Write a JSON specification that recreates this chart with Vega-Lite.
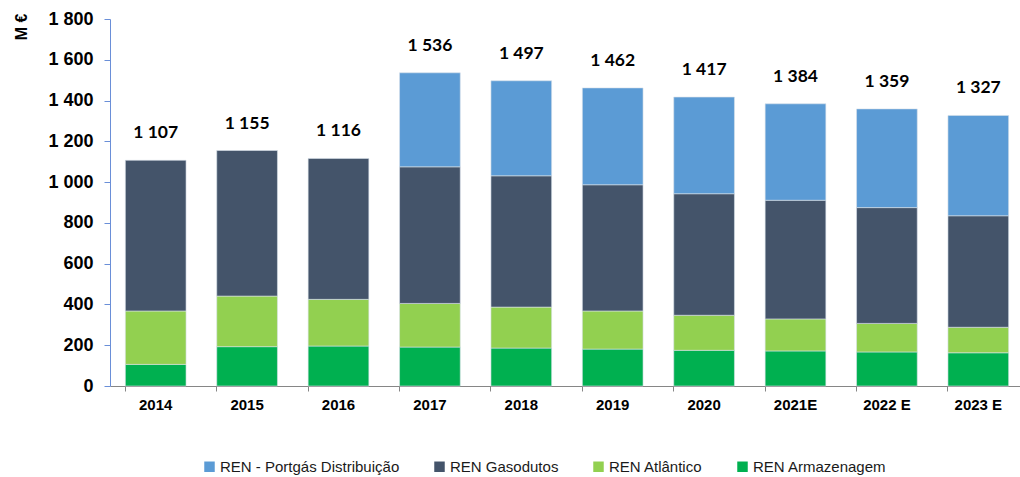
{
  "$schema": "https://vega.github.io/schema/vega-lite/v6.json",
  "autosize": {"type": "none"},
  "width": 914,
  "height": 367,
  "padding": {"left": 110, "top": 19, "right": 0, "bottom": 91},
  "background": "#ffffff",
  "config": {
    "view": {"stroke": null},
    "locale": {"number": {"decimal": ",", "thousands": " ", "grouping": [3], "currency": ["", " €"]}},
    "font": "Liberation Sans"
  },
  "data": {
    "values": [
      {"year": "2014", "seg": "REN Armazenagem", "ord": 1, "value": 106},
      {"year": "2014", "seg": "REN Atlântico", "ord": 2, "value": 262},
      {"year": "2014", "seg": "REN Gasodutos", "ord": 3, "value": 739},
      {"year": "2015", "seg": "REN Armazenagem", "ord": 1, "value": 193},
      {"year": "2015", "seg": "REN Atlântico", "ord": 2, "value": 248},
      {"year": "2015", "seg": "REN Gasodutos", "ord": 3, "value": 714},
      {"year": "2016", "seg": "REN Armazenagem", "ord": 1, "value": 196},
      {"year": "2016", "seg": "REN Atlântico", "ord": 2, "value": 229},
      {"year": "2016", "seg": "REN Gasodutos", "ord": 3, "value": 691},
      {"year": "2017", "seg": "REN Armazenagem", "ord": 1, "value": 191},
      {"year": "2017", "seg": "REN Atlântico", "ord": 2, "value": 214},
      {"year": "2017", "seg": "REN Gasodutos", "ord": 3, "value": 670},
      {"year": "2017", "seg": "REN - Portgás Distribuição", "ord": 4, "value": 461},
      {"year": "2018", "seg": "REN Armazenagem", "ord": 1, "value": 186},
      {"year": "2018", "seg": "REN Atlântico", "ord": 2, "value": 201},
      {"year": "2018", "seg": "REN Gasodutos", "ord": 3, "value": 644},
      {"year": "2018", "seg": "REN - Portgás Distribuição", "ord": 4, "value": 466},
      {"year": "2019", "seg": "REN Armazenagem", "ord": 1, "value": 181},
      {"year": "2019", "seg": "REN Atlântico", "ord": 2, "value": 187},
      {"year": "2019", "seg": "REN Gasodutos", "ord": 3, "value": 619},
      {"year": "2019", "seg": "REN - Portgás Distribuição", "ord": 4, "value": 475},
      {"year": "2020", "seg": "REN Armazenagem", "ord": 1, "value": 175},
      {"year": "2020", "seg": "REN Atlântico", "ord": 2, "value": 172},
      {"year": "2020", "seg": "REN Gasodutos", "ord": 3, "value": 596},
      {"year": "2020", "seg": "REN - Portgás Distribuição", "ord": 4, "value": 474},
      {"year": "2021E", "seg": "REN Armazenagem", "ord": 1, "value": 172},
      {"year": "2021E", "seg": "REN Atlântico", "ord": 2, "value": 157},
      {"year": "2021E", "seg": "REN Gasodutos", "ord": 3, "value": 582},
      {"year": "2021E", "seg": "REN - Portgás Distribuição", "ord": 4, "value": 473},
      {"year": "2022 E", "seg": "REN Armazenagem", "ord": 1, "value": 167},
      {"year": "2022 E", "seg": "REN Atlântico", "ord": 2, "value": 140},
      {"year": "2022 E", "seg": "REN Gasodutos", "ord": 3, "value": 568},
      {"year": "2022 E", "seg": "REN - Portgás Distribuição", "ord": 4, "value": 484},
      {"year": "2023 E", "seg": "REN Armazenagem", "ord": 1, "value": 163},
      {"year": "2023 E", "seg": "REN Atlântico", "ord": 2, "value": 125},
      {"year": "2023 E", "seg": "REN Gasodutos", "ord": 3, "value": 547},
      {"year": "2023 E", "seg": "REN - Portgás Distribuição", "ord": 4, "value": 492}
    ]
  },
  "encoding": {
    "x": {
      "field": "year",
      "type": "nominal",
      "sort": null,
      "scale": {"paddingInner": 0.336, "paddingOuter": 0.168},
      "axis": {
        "title": null,
        "labelAngle": 0,
        "labelFont": "Liberation Sans",
        "labelFontSize": 15,
        "labelFontWeight": "bold",
        "labelColor": "#000000",
        "labelPadding": 6,
        "domainColor": "#868686",
        "tickColor": "#868686",
        "tickSize": 5,
        "bandPosition": 0
      }
    }
  },
  "layer": [
    {
      "mark": {"type": "bar", "stroke": "#d9e1ea", "strokeWidth": 0.6},
      "encoding": {
        "y": {
          "field": "value",
          "type": "quantitative",
          "aggregate": "sum",
          "stack": "zero",
          "scale": {"domain": [0, 1800]},
          "axis": {
            "title": "M €",
            "titleAnchor": "end",
            "titleY": -6,
            "titleFont": "Liberation Sans",
            "titleFontSize": 16,
            "titleFontWeight": "bold",
            "titleColor": "#000000",
            "titlePadding": 18,
            "values": [0, 200, 400, 600, 800, 1000, 1200, 1400, 1600, 1800],
            "format": ",d",
            "labelFont": "Liberation Sans",
            "labelFontSize": 18,
            "labelFontWeight": "bold",
            "labelColor": "#000000",
            "labelPadding": 11,
            "domainColor": "#6a8fd8",
            "tickColor": "#6a8fd8",
            "tickSize": 6,
            "grid": false
          }
        },
        "color": {
          "field": "seg",
          "type": "nominal",
          "scale": {
            "domain": ["REN - Portgás Distribuição", "REN Gasodutos", "REN Atlântico", "REN Armazenagem"],
            "range": ["#5b9bd5", "#44546a", "#92d050", "#00b050"]
          },
          "legend": {
            "title": null,
            "orient": "none",
            "direction": "horizontal",
            "legendX": 92,
            "legendY": 440,
            "symbolType": "square",
            "symbolSize": 110,
            "symbolStrokeWidth": 0,
            "labelFont": "Liberation Sans",
            "labelFontSize": 15,
            "labelColor": "#1a1a1a",
            "labelLimit": 400,
            "labelOffset": 3,
            "columnPadding": 32
          }
        },
        "order": {"field": "ord", "type": "quantitative"}
      }
    },
    {
      "mark": {"type": "text", "baseline": "bottom", "dy": -18, "font": "Lato", "fontSize": 17.5, "fontWeight": "bold", "color": "#000000"},
      "encoding": {
        "y": {"field": "value", "type": "quantitative", "aggregate": "sum"},
        "text": {"field": "value", "type": "quantitative", "aggregate": "sum", "format": ",d"}
      }
    }
  ]
}
